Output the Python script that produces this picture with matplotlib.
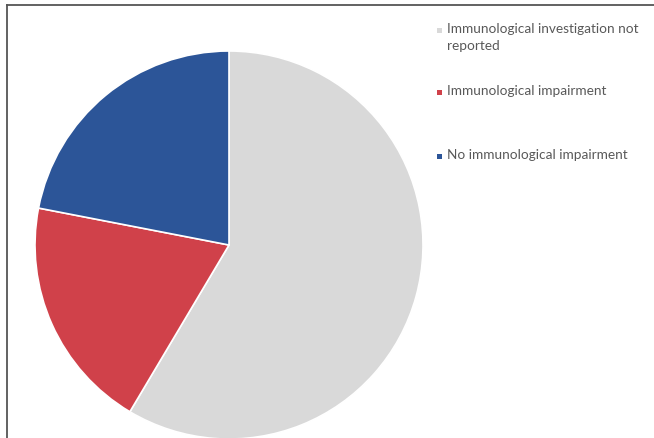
import matplotlib
matplotlib.use("Agg")
from matplotlib import pyplot as plt
from matplotlib.patches import Rectangle
from matplotlib.lines import Line2D

# patient counts per group
labels = ["Immunological investigation not\nreported",
          "Immunological impairment",
          "No immunological impairment"]
counts = [24, 8, 9]
colors = ["#D9D9D9", "#D0414A", "#2C5598"]

W, H = 654, 438
fig = plt.figure(figsize=(W / 100, H / 100), dpi=100)

# pie centred at (229, 245) px with radius 194 px
cx, cy, r = 229, 245, 194
ax = fig.add_axes([(cx - r) / W, (H - cy - r) / H, 2 * r / W, 2 * r / H])
ax.pie(counts, colors=colors, startangle=90, counterclock=False,
       wedgeprops=dict(edgecolor="white", linewidth=1.2))
ax.set_xlim(-1, 1)
ax.set_ylim(-1, 1)
ax.axis("off")

# frame lines (left and top)
fig.add_artist(Line2D([7 / W, 7 / W], [0, 1 - 5 / H], transform=fig.transFigure,
                      color="#555555", linewidth=1.3))
fig.add_artist(Line2D([7 / W, 1], [1 - 5 / H, 1 - 5 / H], transform=fig.transFigure,
                      color="#555555", linewidth=1.3))

# legend drawn by hand
legend_y = [30, 92, 156]
sq = 5
for lab, col, y in zip(labels, colors, legend_y):
    fig.add_artist(Rectangle(((439 - sq / 2) / W, 1 - (y + sq / 2) / H), sq / W, sq / H,
                             transform=fig.transFigure, facecolor=col, edgecolor="none"))
    fig.text(447 / W, 1 - (y - 7) / H, lab, ha="left", va="top",
             fontsize=9.8, family="Lato", color="#595959", linespacing=1.45)

fig.savefig("out.png", dpi=100)
